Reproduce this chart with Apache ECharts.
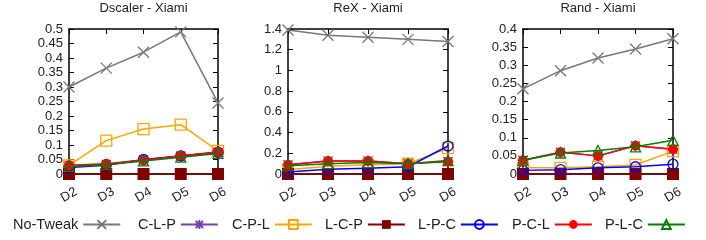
<!DOCTYPE html>
<html><head><meta charset="utf-8">
<script src="https://cdn.jsdelivr.net/npm/echarts@6/dist/echarts.min.js"></script>
<style>html,body{margin:0;padding:0;background:#fff}#c{width:706px;height:240px}</style>
</head><body><div id="c"></div>
<script>
const categories = ['D2','D3','D4','D5','D6'];
const seriesNames = ['No-Tweak','C-L-P','C-P-L','L-C-P','L-P-C','P-C-L','P-L-C'];
const titles = ['Dscaler - Xiami','ReX - Xiami','Rand - Xiami'];

// Dscaler
const noTweak1 = [0.30,0.365,0.42,0.49,0.245];
const clp1 = [0.028,0.033,0.048,0.062,0.074];
const cpl1 = [0.03,0.115,0.155,0.17,0.08];
const lcp1 = [0,0,0,0,0];
const lpc1 = [0.022,0.03,0.05,0.062,0.075];
const pcl1 = [0.03,0.035,0.048,0.063,0.076];
const plc1 = [0.026,0.032,0.045,0.058,0.071];
// ReX
const noTweak2 = [1.39,1.34,1.32,1.30,1.28];
const clp2 = [0.09,0.125,0.125,0.10,0.12];
const cpl2 = [0.04,0.075,0.09,0.10,0.25];
const lcp2 = [0,0,0,0,0];
const lpc2 = [0.02,0.045,0.055,0.07,0.27];
const pcl2 = [0.09,0.125,0.125,0.10,0.12];
const plc2 = [0.08,0.10,0.11,0.10,0.13];
// Rand
const noTweak3 = [0.235,0.285,0.32,0.345,0.373];
const clp3 = [0.038,0.06,0.05,0.078,0.068];
const cpl3 = [0.017,0.017,0.02,0.025,0.063];
const lcp3 = [0,0,0,0,0];
const lpc3 = [0.01,0.012,0.017,0.02,0.027];
const pcl3 = [0.038,0.06,0.05,0.078,0.068];
const plc3 = [0.038,0.058,0.065,0.075,0.093];

const yMax = [0.5, 1.4, 0.4];
const yInterval = [0.05, 0.2, 0.05];

const panelData = [
  [noTweak1, clp1, cpl1, lcp1, lpc1, pcl1, plc1],
  [noTweak2, clp2, cpl2, lcp2, lpc2, pcl2, plc2],
  [noTweak3, clp3, cpl3, lcp3, lpc3, pcl3, plc3]
];

const styles = [
  {color:'#777777', symbol:'path://M0,0L10,10M10,0L0,10', size:11, fill:'none', bw:1.3},
  {color:'#7b3fb0', symbol:'path://M0,0L10,10M10,0L0,10M5,-1L5,11M-1,5L11,5', size:11, fill:'none', bw:1.3},
  {color:'#ffa500', symbol:'rect', size:11, fill:'#ffffff00', bw:1.3},
  {color:'#800000', symbol:'rect', size:12, fill:'#800000', bw:0},
  {color:'#0000ff', symbol:'circle', size:10, fill:'#ffffff00', bw:1.3},
  {color:'#ff0000', symbol:'circle', size:10, fill:'#ff0000', bw:0},
  {color:'#008000', symbol:'triangle', size:10, fill:'#ffffff00', bw:1.3}
];
const legendLeft = [13, 138, 232, 325, 418, 512, 605];

const grids = [
  {left:69, top:29, width:149, height:145},
  {left:288, top:29, width:160, height:145},
  {left:523, top:29, width:150, height:145}
];
const font = 'Liberation Sans, Arial, sans-serif';

const xAxis = [], yAxis = [], series = [], title = [];
grids.forEach((g, i) => {
  title.push({text:titles[i], left:g.left + g.width/2, top:2, padding:0, textAlign:'center',
    textStyle:{fontSize:13, fontWeight:'normal', color:'#222', fontFamily:font}});
  const axLine = {show:true, onZero:false, lineStyle:{color:'#000', width:1.5}};
  xAxis.push({type:'category', data:categories, gridIndex:i, boundaryGap:false, position:'bottom',
    axisLine:axLine, axisTick:{inside:true, length:5, lineStyle:{color:'#000'}},
    axisLabel:{rotate:30, align:'center', verticalAlign:'middle', fontSize:13, color:'#222', fontFamily:font, margin:21, interval:0},
    splitLine:{show:false}});
  xAxis.push({type:'category', data:categories, gridIndex:i, boundaryGap:false, position:'top',
    axisLine:axLine, axisTick:{inside:true, length:5, lineStyle:{color:'#000'}},
    axisLabel:{show:false}, splitLine:{show:false}});
  yAxis.push({type:'value', gridIndex:i, min:0, max:yMax[i], interval:yInterval[i], position:'left',
    axisLine:axLine, axisTick:{show:true, inside:true, length:5, lineStyle:{color:'#000'}},
    axisLabel:{fontSize:13, color:'#222', fontFamily:font, margin:6}, splitLine:{show:false}});
  yAxis.push({type:'value', gridIndex:i, min:0, max:yMax[i], interval:yInterval[i], position:'right',
    axisLine:axLine, axisTick:{show:true, inside:true, length:5, lineStyle:{color:'#000'}},
    axisLabel:{show:false}, splitLine:{show:false}});
  panelData[i].forEach((d, k) => {
    const s = styles[k];
    series.push({
      name: seriesNames[k], type:'line', data:d,
      xAxisIndex: i*2, yAxisIndex: i*2,
      symbol: s.symbol, symbolSize: s.size, clip:false,
      lineStyle:{color:s.color, width:1.5},
      itemStyle:{color:s.fill, borderColor:s.color, borderWidth:s.bw},
      emphasis:{disabled:true}, animation:false, z: 2 + k
    });
  });
});

const legend = seriesNames.map((n, k) => ({
  data:[n], left:legendLeft[k], top:217, padding:0, align:'right', itemWidth:37, itemHeight:11,
  textStyle:{fontSize:14.5, color:'#222', fontFamily:font}
}));

const chart = echarts.init(document.getElementById('c'), null, {renderer:'canvas'});
chart.setOption({
  backgroundColor:'#fff',
  animation:false,
  title,
  grid: grids,
  xAxis, yAxis, series,
  legend
});
</script></body></html>
